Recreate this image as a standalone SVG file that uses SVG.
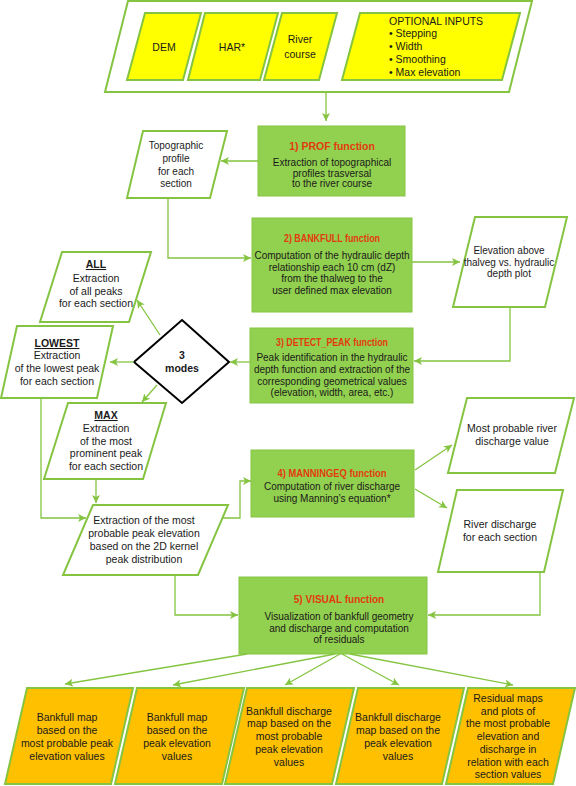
<svg xmlns="http://www.w3.org/2000/svg" width="576" height="786" viewBox="0 0 576 786">
<style>
.para{fill:#ffffff;stroke:#84C441;stroke-width:2}
.yel{fill:#FFFF00;stroke:#84C441;stroke-width:2}
.org{fill:#FFC000;stroke:#84C441;stroke-width:2}
.box{fill:#92D050;stroke:#86C544;stroke-width:1}
.dia{fill:#ffffff;stroke:#000000;stroke-width:2}
text{font-family:"Liberation Sans",Arial,sans-serif;font-size:10.5px;fill:#1a1a1a;text-anchor:middle}
.b{font-size:10px}
.ttl{font-weight:bold;fill:#E23B0E;font-size:10px}
.bold{font-weight:bold}
.u{font-weight:bold;text-decoration:underline}
.l{text-anchor:start}
#connectors path,#connectors line{fill:none;stroke:#84C441;stroke-width:1.3}
</style>
<defs>
<marker id="ah" markerUnits="userSpaceOnUse" markerWidth="9" markerHeight="8" refX="8" refY="4" orient="auto">
<path d="M0,0 L8,4 L0,8 L2,4 z" fill="#84C441"/>
</marker>
</defs>

<g id="inputs">
<polygon class="para" points="128,1 532,1 509,92 105,92"/>
<g id="dem"><polygon class="yel" points="145,13 201,13 183,80 127,80"/><text x="164" y="51">DEM</text></g>
<g id="har"><polygon class="yel" points="205,13 278,13 260,80 188,80"/><text x="232" y="51">HAR*</text></g>
<g id="river"><polygon class="yel" points="282,13 337,13 319,80 264,80"/><text x="300" y="43">River</text><text x="300" y="58">course</text></g>
<g id="optional"><polygon class="yel" points="360,13 520,13 502,80 342,80"/>
<text class="l" x="389" y="25">OPTIONAL INPUTS</text>
<text class="l" x="389" y="37">• Stepping</text>
<text class="l" x="389" y="50">• Width</text>
<text class="l" x="389" y="63">• Smoothing</text>
<text class="l" x="389" y="76">• Max elevation</text>
</g>
</g>

<g id="prof"><rect class="box" x="258" y="126" width="147" height="70"/>
<text class="ttl" x="332" y="150" style="font-size:10.5px">1) PROF function</text>
<text class="b" x="332" y="165.5">Extraction of topographical</text>
<text class="b" x="332" y="176.5">profiles trasversal</text>
<text class="b" x="332" y="187">to the river course</text>
</g>

<g id="topo"><polygon class="para" points="143,131 227,131 210,198 127,198"/>
<text class="b" x="176" y="148.5">Topographic</text>
<text class="b" x="176" y="161.5">profile</text>
<text class="b" x="176" y="174.5">for each</text>
<text class="b" x="176" y="186.5">section</text>
</g>

<g id="bankfull"><rect class="box" x="252" y="218" width="160" height="94"/>
<text class="ttl" x="332" y="242" textLength="96" lengthAdjust="spacingAndGlyphs">2) BANKFULL function</text>
<text class="b" x="332" y="258.5">Computation of the hydraulic depth</text>
<text class="b" x="332" y="270.5">relationship each 10 cm (dZ)</text>
<text class="b" x="332" y="281.5">from the thalweg to the</text>
<text class="b" x="332" y="293.5">user defined max elevation</text>
</g>

<g id="elev"><polygon class="para" points="475,217 567,217 545,307 453,307"/>
<text class="b" x="509" y="254">Elevation above</text>
<text class="b" x="509" y="266">thalveg vs. hydraulic</text>
<text class="b" x="509" y="277">depth plot</text>
</g>

<g id="detect"><rect class="box" x="250" y="328" width="163" height="75"/>
<text class="ttl" x="332" y="346" textLength="112" lengthAdjust="spacingAndGlyphs">3) DETECT_PEAK function</text>
<text class="b" x="332" y="360.5">Peak identification in the hydraulic</text>
<text class="b" x="332" y="372.5">depth function and extraction of the</text>
<text class="b" x="332" y="384.5">corresponding geometrical values</text>
<text class="b" x="332" y="395.5">(elevation, width, area, etc.)</text>
</g>

<g id="modes"><polygon class="dia" points="182,320 229,362 182,403 134,362"/>
<text class="bold" x="182" y="359">3</text>
<text class="bold" x="182" y="372">modes</text>
</g>

<g id="all"><polygon class="para" points="62,252 151,252 129,322 40,322"/>
<text class="u" x="96" y="268">ALL</text>
<text x="96" y="282">Extraction</text>
<text x="96" y="295">of all peaks</text>
<text x="96" y="307">for each section</text>
</g>

<g id="lowest"><polygon class="para" points="17,326 113,326 97,398 1,398"/>
<text class="u" x="57" y="347">LOWEST</text>
<text x="57" y="359">Extraction</text>
<text x="57" y="372">of the lowest peak</text>
<text x="57" y="385">for each section</text>
</g>

<g id="max"><polygon class="para" points="68,403 166,403 143,479 44,479"/>
<text class="u" x="106" y="419">MAX</text>
<text x="106" y="432">Extraction</text>
<text x="106" y="445">of the most</text>
<text x="106" y="457">prominent peak</text>
<text x="106" y="470">for each section</text>
</g>

<g id="probable"><polygon class="para" points="93,505 228,505 198,575 63,575"/>
<text x="144" y="524">Extraction of the most</text>
<text x="144" y="537">probable peak elevation</text>
<text x="144" y="550">based on the 2D kernel</text>
<text x="144" y="563">peak distribution</text>
</g>

<g id="manning"><rect class="box" x="251" y="450" width="163" height="67"/>
<text class="ttl" x="332" y="477" textLength="109" lengthAdjust="spacingAndGlyphs">4) MANNINGEQ function</text>
<text class="b" x="332" y="489.5">Computation of river discharge</text>
<text class="b" x="332" y="501.5">using Manning’s equation*</text>
</g>

<g id="mostq"><polygon class="para" points="467,398 574,398 555,473 448,473"/>
<text x="512" y="432">Most probable river</text>
<text x="512" y="445">discharge value</text>
</g>

<g id="riverq"><polygon class="para" points="457,490 563,490 544,572 438,572"/>
<text x="500" y="528">River discharge</text>
<text x="500" y="541">for each section</text>
</g>

<g id="visual"><rect class="box" x="239" y="577" width="188" height="77"/>
<text class="ttl" x="339" y="603" style="font-size:10px">5) VISUAL function</text>
<text class="b" x="339" y="619.5">Visualization of bankfull geometry</text>
<text class="b" x="339" y="631.5">and discharge and computation</text>
<text class="b" x="339" y="642.5">of residuals</text>
</g>

<g id="out1"><polygon class="org" points="27,688 133,688 111,784 5,784"/>
<text x="67" y="721">Bankfull map</text>
<text x="67" y="734">based on the</text>
<text x="67" y="747">most probable peak</text>
<text x="67" y="760">elevation values</text>
</g>
<g id="out2"><polygon class="org" points="137,688 244,688 222,784 115,784"/>
<text x="177" y="721">Bankfull map</text>
<text x="177" y="734">based on the</text>
<text x="177" y="747">peak elevation</text>
<text x="177" y="760">values</text>
</g>
<g id="out3"><polygon class="org" points="247,688 354,688 332,784 225,784"/>
<text x="289" y="715">Bankfull discharge</text>
<text x="289" y="727">map based on the</text>
<text x="289" y="740">most probable</text>
<text x="289" y="753">peak elevation</text>
<text x="289" y="766">values</text>
</g>
<g id="out4"><polygon class="org" points="358,688 464,688 442,784 336,784"/>
<text x="398" y="721">Bankfull discharge</text>
<text x="398" y="734">map based on the</text>
<text x="398" y="747">peak elevation</text>
<text x="398" y="760">values</text>
</g>
<g id="out5"><polygon class="org" points="468,688 575,688 553,784 446,784"/>
<text x="508" y="702">Residual maps</text>
<text x="508" y="715">and plots of</text>
<text x="508" y="727">the most probable</text>
<text x="508" y="740">elevation and</text>
<text x="508" y="753">discharge in</text>
<text x="508" y="766">relation with each</text>
<text x="508" y="778">section values</text>
</g>

<g id="connectors">
<path d="M326,92 V121" marker-end="url(#ah)"/>
<path d="M258,161 H221" marker-end="url(#ah)"/>
<path d="M168,198 V258 H251" marker-end="url(#ah)"/>
<path d="M412,262 H460" marker-end="url(#ah)"/>
<path d="M510,307 V361 H414" marker-end="url(#ah)"/>
<path d="M250,362 H230" marker-end="url(#ah)"/>
<path d="M160,335 L137,300" marker-end="url(#ah)"/>
<path d="M134,362 H110" marker-end="url(#ah)"/>
<path d="M157,385 L142,402" marker-end="url(#ah)"/>
<path d="M96,479 V503" marker-end="url(#ah)"/>
<path d="M41,398 V518 H86" marker-end="url(#ah)"/>
<path d="M222,518 H240 V481 H251" marker-end="url(#ah)"/>
<path d="M415,470 L452,445" marker-end="url(#ah)"/>
<path d="M415,489 L447,508" marker-end="url(#ah)"/>
<path d="M540,572 V615 H428" marker-end="url(#ah)"/>
<path d="M175,575 V615 H238" marker-end="url(#ah)"/>
<path d="M247,654 L65,684" marker-end="url(#ah)"/>
<path d="M335,654 L173,685" marker-end="url(#ah)"/>
<path d="M340,654 L285,685" marker-end="url(#ah)"/>
<path d="M342,654 L399,685" marker-end="url(#ah)"/>
<path d="M350,654 L513,685" marker-end="url(#ah)"/>
</g>
</svg>
